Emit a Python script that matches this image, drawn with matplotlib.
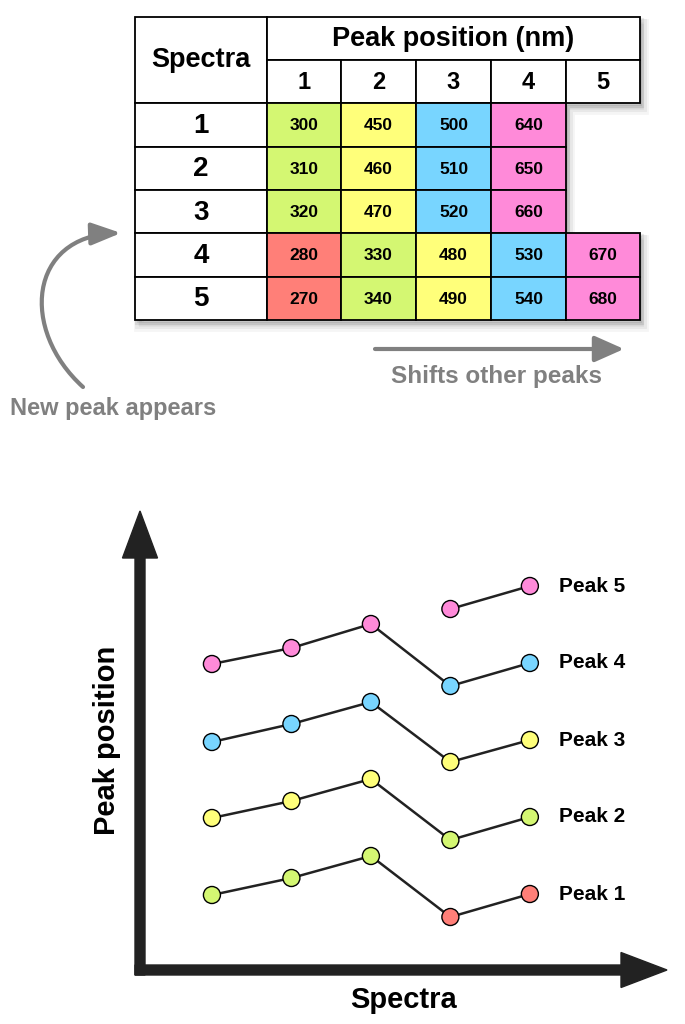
import numpy as np
import matplotlib
matplotlib.use('Agg')
import matplotlib.pyplot as plt
from matplotlib.patches import Rectangle, Polygon, FancyArrow, FancyArrowPatch
from matplotlib.path import Path

plt.rcParams['font.family'] = ['Liberation Sans', 'DejaVu Sans']
plt.rcParams['font.weight'] = 'bold'

# table: peak positions (nm) per spectrum
spectra = [1, 2, 3, 4, 5]
peak_numbers = [1, 2, 3, 4, 5]
peak_table = [
    [300, 450, 500, 640, None],
    [310, 460, 510, 650, None],
    [320, 470, 520, 660, None],
    [280, 330, 480, 530, 670],
    [270, 340, 490, 540, 680],
]
cell_colors = [
    ['green', 'yellow', 'blue', 'pink', None],
    ['green', 'yellow', 'blue', 'pink', None],
    ['green', 'yellow', 'blue', 'pink', None],
    ['red', 'green', 'yellow', 'blue', 'pink'],
    ['red', 'green', 'yellow', 'blue', 'pink'],
]
palette = {'red': '#ff7f78', 'green': '#d4f772', 'yellow': '#ffff7a',
           'blue': '#78d5ff', 'pink': '#ff8ad9'}

# schematic peak positions for the lower chart (arbitrary units)
peak1 = [105, 122, 144, 83, 106]
peak2 = [182, 199, 221, 160, 183]
peak3 = [258, 276, 298, 238, 260]
peak4 = [336, 352, 376, 314, 337]
peak5 = [np.nan, np.nan, np.nan, 391, 414]
peaks = [peak1, peak2, peak3, peak4, peak5]

fig = plt.figure(figsize=(6.85, 10.24), dpi=100)

# overlay in pixel units for table and annotations
ov = fig.add_axes([0, 0, 1, 1])
ov.set_xlim(0, 685)
ov.set_ylim(1024, 0)
ov.axis('off')

col_edges = [135, 267, 341, 416, 491, 566, 640]
row_edges = [17, 60, 103, 147, 190, 233, 277, 320]
lw = 1.3

# drop shadow of the table
outline = [(135, 17), (640, 17), (640, 103), (566, 103), (566, 233),
           (640, 233), (640, 320), (135, 320)]
for off, a in [(7, 0.06), (5, 0.08), (3, 0.12)]:
    pts = [(x + off * 0.6, y + off) for x, y in outline]
    ov.add_patch(Polygon(pts, closed=True, facecolor='#555555', edgecolor='#555555',
                         lw=off, alpha=a, zorder=1))


def cell(x0, x1, y0, y1, fc='white'):
    ov.add_patch(Rectangle((x0, y0), x1 - x0, y1 - y0, facecolor=fc,
                           edgecolor='black', lw=lw, zorder=2))


# header
cell(col_edges[0], col_edges[1], row_edges[0], row_edges[2])
ov.text((col_edges[0] + col_edges[1]) / 2, row_edges[1], 'Spectra',
        ha='center', va='center', fontsize=19.5, zorder=3)
cell(col_edges[1], col_edges[-1], row_edges[0], row_edges[1])
ov.text((col_edges[1] + col_edges[-1]) / 2, (row_edges[0] + row_edges[1]) / 2,
        'Peak position (nm)', ha='center', va='center', fontsize=19.5, zorder=3)
for j, p in enumerate(peak_numbers):
    cell(col_edges[j + 1], col_edges[j + 2], row_edges[1], row_edges[2])
    ov.text((col_edges[j + 1] + col_edges[j + 2]) / 2, (row_edges[1] + row_edges[2]) / 2 + 1,
            str(p), ha='center', va='center', fontsize=17, zorder=3)

# body
for i, s in enumerate(spectra):
    y0, y1 = row_edges[i + 2], row_edges[i + 3]
    cell(col_edges[0], col_edges[1], y0, y1)
    ov.text((col_edges[0] + col_edges[1]) / 2, (y0 + y1) / 2 + 1, str(s),
            ha='center', va='center', fontsize=20, zorder=3)
    for j, v in enumerate(peak_table[i]):
        if v is None:
            continue
        cell(col_edges[j + 1], col_edges[j + 2], y0, y1, palette[cell_colors[i][j]])
        ov.text((col_edges[j + 1] + col_edges[j + 2]) / 2, (y0 + y1) / 2 + 1, str(v),
                ha='center', va='center', fontsize=12.5, zorder=3)

# gray annotations
gray = '#808080'
curve = Path([(83, 387), (20, 330), (28, 236), (121, 233)],
             [Path.MOVETO, Path.CURVE4, Path.CURVE4, Path.CURVE4])
ov.add_patch(FancyArrowPatch(path=curve, arrowstyle='-|>,head_length=0.9,head_width=0.34',
                             mutation_scale=20, color=gray, lw=3))
ov.text(113, 408, 'New peak appears', color=gray, ha='center', va='center', fontsize=17)
ov.add_patch(FancyArrowPatch((375, 349), (624, 349), arrowstyle='-|>,head_length=0.9,head_width=0.4',
                             mutation_scale=20, color=gray, lw=3, shrinkA=0, shrinkB=0))
ov.text(497, 377, 'Shifts other peaks', color=gray, ha='center', va='center', fontsize=17.5)

# axis arrows of the lower chart
dark = '#222222'
ov.add_patch(FancyArrow(140, 975, 0, 511 - 975, width=10, head_width=35, head_length=47,
                        length_includes_head=True, color=dark, zorder=4))
ov.add_patch(FancyArrow(135, 970, 667 - 135, 0, width=10, head_width=35, head_length=46,
                        length_includes_head=True, color=dark, zorder=4))
ov.text(107, 740, 'Peak position', rotation=90, ha='center', va='center', fontsize=21)
ov.text(404, 1000, 'Spectra', ha='center', va='center', fontsize=21)

# lower chart
ax = fig.add_axes([145 / 685, 54 / 1024, 520 / 685, 460 / 1024])
ax.set_xlim(0.158, 6.70)
ax.set_ylim(30, 490)
ax.axis('off')
ax.patch.set_alpha(0)

for k, vals in enumerate(peaks):
    ax.plot(spectra, vals, color=dark, lw=1.8, zorder=2)
    xs = [s for s, v in zip(spectra, vals) if not np.isnan(v)]
    ys = [v for v in vals if not np.isnan(v)]
    cs = [palette[cell_colors[s - 1][k]] for s in xs]
    ax.scatter(xs, ys, s=150, c=cs, edgecolors='black', linewidths=1, zorder=3)
    ax.text(5.37, vals[-1], f'Peak {k + 1}', ha='left', va='center', fontsize=15)

fig.savefig('out.png', dpi=100)
